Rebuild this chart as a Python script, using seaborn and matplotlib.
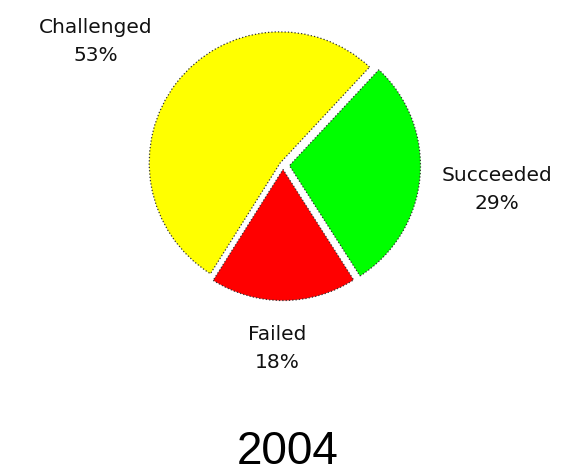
import numpy as np
import matplotlib
matplotlib.use("Agg")
import matplotlib.pyplot as plt
import seaborn as sns

# data
categories = ["Challenged", "Failed", "Succeeded"]
percents = [53, 18, 29]
colors = ["#FFFF00", "#FF0000", "#00FF00"]
year = "2004"

sns.set_theme(style="white")
plt.rcParams["font.family"] = ["DejaVu Sans"]

W, H = 579, 474
fig = plt.figure(figsize=(W / 100, H / 100), dpi=100)
ax = fig.add_axes([0, 0, 1, 1])

cx, cy, r = 283, H - 165, 131
# explode is in data units (px here)
wedges, _ = ax.pie(
    percents,
    colors=colors,
    startangle=47,
    counterclock=True,
    center=(cx, cy),
    radius=r,
    explode=[3.5, 4.5, 6.5],
    wedgeprops=dict(edgecolor="#333333", linewidth=0.9, linestyle=":"),
)
ax.set_xlim(0, W)
ax.set_ylim(0, H)
ax.set_aspect("equal")
ax.axis("off")

# label positions (px from top-left)
label_pos = {"Challenged": (96, 41), "Failed": (277, 348), "Succeeded": (497, 189)}
for name, pct in zip(categories, percents):
    x, y = label_pos[name]
    ax.text(x, H - y, f"{name}\n{pct}%", ha="center", va="center",
            fontsize=14.5, color="#111111", linespacing=1.6)

ax.text(288, H - 452, year, ha="center", va="center", fontsize=33,
        family="Liberation Sans", color="black")

fig.savefig("out.png", dpi=100)
